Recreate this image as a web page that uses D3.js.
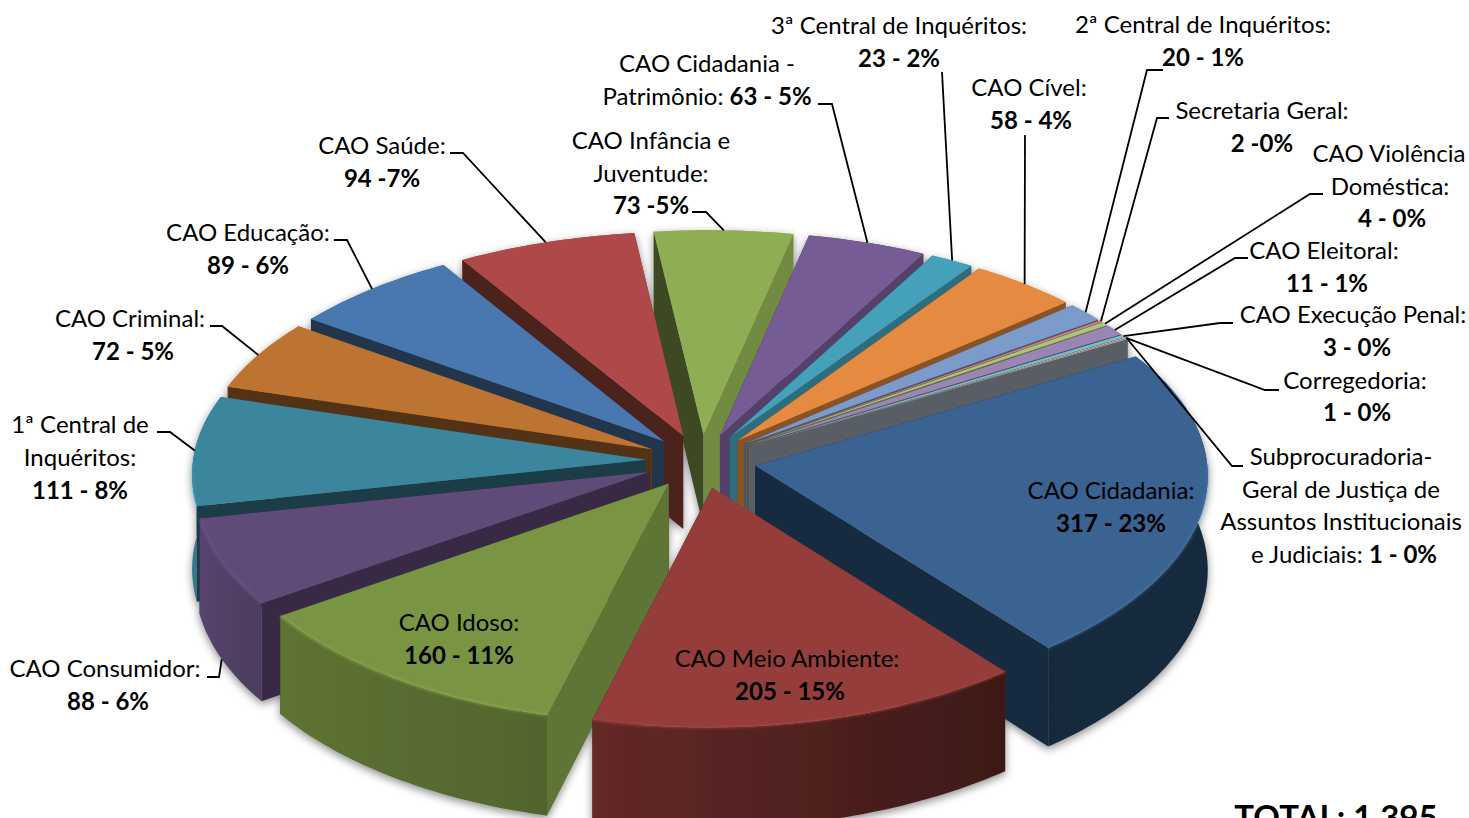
<!DOCTYPE html>
<html lang="pt">
<head>
<meta charset="utf-8">
<title>Total 1.395</title>
<script src="https://d3js.org/d3.v7.min.js"></script>
<style>
  html, body { margin: 0; padding: 0; background: #fff; overflow: hidden; }
  text { font-family: Lato, "Open Sans", sans-serif; fill: #000; }
</style>
</head>
<body>
<script>
// data
var categories = ["CAO Cidadania", "CAO Meio Ambiente", "CAO Idoso", "CAO Consumidor", "1ª Central de Inquéritos",
  "CAO Criminal", "CAO Educação", "CAO Saúde", "CAO Infância e Juventude", "CAO Cidadania - Patrimônio",
  "3ª Central de Inquéritos", "CAO Cível", "2ª Central de Inquéritos", "Secretaria Geral", "CAO Violência Doméstica",
  "CAO Eleitoral", "CAO Execução Penal", "Corregedoria", "Subprocuradoria-Geral"];
var values = [317, 205, 160, 88, 111, 72, 89, 94, 73, 63, 23, 58, 20, 2, 4, 11, 3, 1, 1];
var colors = ["#3a6391", "#943c3a", "#799443", "#614c78", "#3a869c", "#bd7332", "#4977af", "#af4a48", "#8fae53", "#765b94",
  "#45a0b9", "#e58a3f", "#7c9aca", "#cf7f7d", "#a9c67b", "#9b86b3", "#6fbfd2", "#f0b27f", "#a4acbc"];

// label text: each line is [normal, bold]
var labelLines = [
  [["CAO Cidadania:", ""], ["", "317 - 23%"]],
  [["CAO Meio Ambiente:", ""], ["", "205 - 15%"]],
  [["CAO Idoso:", ""], ["", "160 - 11%"]],
  [["CAO Consumidor:", ""], ["", "88 - 6%"]],
  [["1ª Central de", ""], ["Inquéritos:", ""], ["", "111 - 8%"]],
  [["CAO Criminal:", ""], ["", "72 - 5%"]],
  [["CAO Educação:", ""], ["", "89 - 6%"]],
  [["CAO Saúde:", ""], ["", "94 -7%"]],
  [["CAO Infância e", ""], ["Juventude:", ""], ["", "73 -5%"]],
  [["CAO Cidadania -", ""], ["Patrimônio: ", "63 - 5%"]],
  [["3ª Central de Inquéritos:", ""], ["", "23 - 2%"]],
  [["CAO Cível:", ""], ["", "58 - 4%"]],
  [["2ª Central de Inquéritos:", ""], ["", "20 - 1%"]],
  [["Secretaria Geral:", ""], ["", "2 -0%"]],
  [["CAO Violência", ""], ["Doméstica:", ""], ["", "4 - 0%"]],
  [["CAO Eleitoral:", ""], ["", "11 - 1%"]],
  [["CAO Execução Penal:", ""], ["", "3 - 0%"]],
  [["Corregedoria:", ""], ["", "1 - 0%"]],
  [["Subprocuradoria-", ""], ["Geral de Justiça de", ""], ["Assuntos Institucionais", ""], ["e Judiciais: ", "1 - 0%"]]
];
var totalLabel = "TOTAL: 1.395";

// label placement, centre of each line
var labelAt = [
  [[1111, 491], [1111, 524]], [[787, 659], [790, 692]], [[459, 623], [459, 656]], [[105, 669], [108, 702]],
  [[80, 425], [80, 458], [80, 491]], [[130, 319], [133, 352]], [[248, 233], [248, 266]], [[382, 146], [382, 179]],
  [[651, 141], [651, 174], [651, 206]], [[707, 64], [707, 97]], [[899, 26], [899, 59]], [[1029, 88], [1031, 121]],
  [[1203, 25], [1203, 58]], [[1262, 111], [1262, 144]], [[1389, 154], [1390, 187], [1392, 219]], [[1324, 251], [1327, 284]],
  [[1353, 315], [1357, 348]], [[1355, 381], [1357, 413]], [[1341, 457], [1341, 490], [1341, 522], [1344, 555]]
];
// leader lines start at the label and run to the slice edge
var leaderFrom = {
  3: [[207, 677], [219, 677]], 4: [[157, 432], [170, 432]], 5: [[210, 326], [222, 326]], 6: [[334, 240], [347, 240]],
  7: [[450, 153], [463, 153]], 8: [[692, 212], [706, 212]], 9: [[818, 104], [832, 104]], 10: [[942, 72]],
  11: [[1025, 135]], 12: [[1163, 70], [1147, 70]], 13: [[1169, 118], [1157, 118]], 14: [[1323, 194], [1310, 194]],
  15: [[1248, 258], [1235, 258]], 16: [[1233, 323], [1220, 323]], 17: [[1279, 390], [1265, 390]], 18: [[1243, 466], [1232, 466]]
};

var width = 1469, height = 818;
var cx = 701, cy = 461, radiusX = 452, radiusY = 222;
var perspectiveX = 0.05, perspectiveY = 0.065, shear = 16, tilt = 0.012, depth = 94, explode = 0.122;
var deg = Math.PI / 180;

var svg = d3.select("body").append("svg").attr("width", width).attr("height", height).style("display", "block");
var defs = svg.append("defs");

var shadow = defs.append("filter").attr("id", "shadow")
  .attr("x", "-5%").attr("y", "-5%").attr("width", "110%").attr("height", "110%");
shadow.append("feDropShadow").attr("dx", 0).attr("dy", 3).attr("stdDeviation", 4)
  .attr("flood-color", "#000").attr("flood-opacity", 0.45);
defs.append("filter").attr("id", "soft").append("feGaussianBlur").attr("stdDeviation", 0.8);

var pie = d3.pie().value(function(d) { return d; }).sort(null).startAngle(58 * deg).endAngle(418 * deg);
var arcs = pie(values);

// shade of the flat walls, by the direction the wall faces
var wallShade = d3.scaleLinear().domain([100, 165, 270]).range([0.8, 0.45, 0.42]).clamp(true);
// shade of the curved outer wall, by angle round the pie
var rimShade = d3.scaleLinear().domain([58, 140, 193, 234, 257, 285]).range([0.42, 0.41, 0.68, 0.78, 0.9, 1]).clamp(true);

function shade(color, k) {
  var c = d3.rgb(color);
  return d3.rgb(c.r * k, c.g * k, c.b * k).formatHex();
}

// angle (radians, clockwise from the back), radius 0..1, drop below the top face
function project(slice, angle, r, z) {
  var mid = (slice.startAngle + slice.endAngle) / 2;
  var u = r * Math.sin(angle) + explode * Math.sin(mid);
  var v = -r * Math.cos(angle) - explode * Math.cos(mid);
  var sx = 1 + perspectiveX * v, sy = 1 + perspectiveY * v;
  var dx = radiusX * u * sx - shear * v;
  return [cx + dx, cy + radiusY * v * sy + z * sy + tilt * dx];
}

function arcPoints(slice, z) {
  var n = Math.max(2, Math.ceil((slice.endAngle - slice.startAngle) / deg));
  return d3.range(n + 1).map(function(i) {
    return project(slice, slice.startAngle + (slice.endAngle - slice.startAngle) * i / n, 1, z);
  });
}

var line = d3.line();

function wall(slice, angle) {
  return line([project(slice, angle, 0, 0), project(slice, angle, 1, 0), project(slice, angle, 1, depth), project(slice, angle, 0, depth)]) + "Z";
}

function normalOf(angle, turn) {
  return (angle / deg + turn + 720) % 360;
}

// painter's order: back slices first
var order = arcs.slice().sort(function(a, b) {
  var ma = (a.startAngle + a.endAngle) / 2, mb = (b.startAngle + b.endAngle) / 2;
  return -Math.cos(ma) - -Math.cos(mb);
});

var pieG = svg.append("g").attr("filter", "url(#shadow)");

order.forEach(function(slice) {
  var base = colors[slice.index];
  var g = pieG.append("g").attr("class", "slice");
  g.append("title").text(categories[slice.index] + ": " + slice.value);

  // walls turned away from the viewer go under the rim, the others over it
  var walls = [
    { angle: slice.startAngle, normal: normalOf(slice.startAngle, -90) },
    { angle: slice.endAngle, normal: normalOf(slice.endAngle, 90) }
  ];
  function drawWall(w) {
    g.append("path").attr("d", wall(slice, w.angle)).attr("fill", shade(base, wallShade(w.normal)));
  }
  function facesViewer(w) {
    return Math.cos(w.normal * deg) < 0;
  }

  walls.filter(function(w) { return !facesViewer(w); }).forEach(drawWall);

  var top = arcPoints(slice, 0), bottom = arcPoints(slice, depth);

  var gradId = "rim" + slice.index;
  var grad = defs.append("linearGradient").attr("id", gradId).attr("gradientUnits", "userSpaceOnUse")
    .attr("x1", top[0][0]).attr("x2", top[top.length - 1][0]).attr("y1", 0).attr("y2", 0);
  grad.append("stop").attr("offset", 0).attr("stop-color", shade(base, rimShade(slice.startAngle / deg)));
  grad.append("stop").attr("offset", 1).attr("stop-color", shade(base, rimShade(slice.endAngle / deg)));

  g.append("path").attr("d", line(top.concat(bottom.slice().reverse())) + "Z").attr("fill", "url(#" + gradId + ")");

  walls.filter(facesViewer).forEach(drawWall);

  var apex = project(slice, slice.startAngle, 0, 0);
  g.append("path").attr("d", line([apex].concat(top)) + "Z").attr("fill", base);

  // light bevel along the front part of the top edge
  var front = top.filter(function(p) { return p[1] > cy; });
  if (front.length > 1) {
    g.append("path").attr("d", line(front)).attr("fill", "none")
      .attr("stroke", d3.rgb(base).brighter(0.6).formatHex()).attr("stroke-width", 2.5)
      .attr("stroke-opacity", 0.45).attr("filter", "url(#soft)");
  }
});

// leaders
Object.keys(leaderFrom).forEach(function(k) {
  var slice = arcs[+k];
  var mid = (slice.startAngle + slice.endAngle) / 2;
  // the Consumidor leader stops on the outer wall, not on the top face
  var end = project(slice, mid, 1, +k === 3 ? depth : 0);
  svg.append("path").attr("d", line(leaderFrom[k].concat([end])))
    .attr("fill", "none").attr("stroke", "#000").attr("stroke-width", 1.8);
});

// labels
labelLines.forEach(function(lines, i) {
  lines.forEach(function(parts, j) {
    var t = svg.append("text")
      .attr("x", labelAt[i][j][0]).attr("y", labelAt[i][j][1])
      .attr("dy", "0.35em").attr("text-anchor", "middle").attr("font-size", 24);
    if (parts[0]) t.append("tspan").text(parts[0]);
    if (parts[1]) t.append("tspan").attr("font-weight", 700).text(parts[1]);
  });
});

svg.append("text").attr("x", 1336).attr("y", 829).attr("text-anchor", "middle")
  .attr("font-size", 33).attr("font-weight", 700).text(totalLabel);
</script>
</body>
</html>
